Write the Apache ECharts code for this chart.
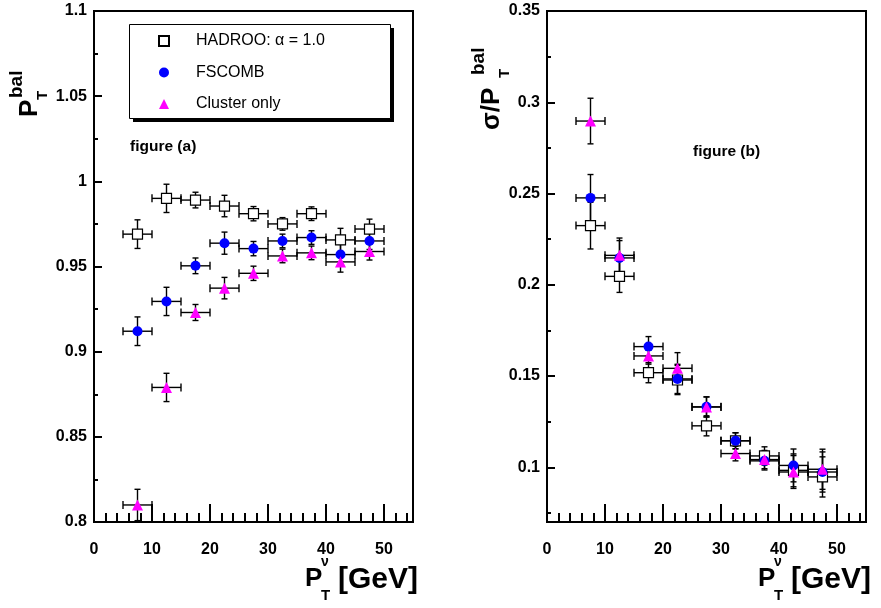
<!DOCTYPE html>
<html>
<head>
<meta charset="utf-8">
<script src="https://cdn.jsdelivr.net/npm/echarts@6/dist/echarts.min.js"></script>
<style>html,body{margin:0;padding:0;background:#fff}#c{width:881px;height:608px}</style>
</head>
<body>
<div id="c"></div>
<script>
// ---- data ----
const ptBins = [7.5, 12.5, 17.5, 22.5, 27.5, 32.5, 37.5, 42.5, 47.5];
const ptHalfWidth = [2.5, 2.5, 2.5, 2.5, 2.5, 2.5, 2.5, 2.5, 2.5];

// figure (a): P_T^bal
const hadrooA    = [0.969, 0.990, 0.989, 0.9855, 0.981, 0.975, 0.981, 0.9656, 0.972];
const hadrooAErr = [0.0084, 0.0083, 0.0046, 0.0063, 0.0042, 0.0037, 0.0040, 0.0068, 0.0058];
const fscombA    = [0.912, 0.9295, 0.9504, 0.9637, 0.9605, 0.965, 0.967, 0.957, 0.965];
const fscombAErr = [0.0084, 0.0083, 0.0046, 0.0065, 0.0042, 0.0040, 0.0040, 0.0060, 0.0050];
const clusterA    = [0.810, 0.879, 0.923, 0.9373, 0.946, 0.9562, 0.958, 0.9527, 0.9588];
const clusterAErr = [0.0092, 0.0083, 0.0047, 0.0063, 0.0042, 0.0040, 0.0040, 0.0060, 0.0050];

// figure (b): sigma / P_T^bal
const hadrooB    = [0.2324, 0.2046, 0.1518, 0.1478, 0.1227, 0.1145, 0.1062, 0.0983, 0.0947];
const hadrooBErr = [0.0128, 0.0088, 0.0055, 0.0080, 0.0055, 0.0044, 0.0050, 0.0090, 0.0110];
const fscombB    = [0.2476, 0.2147, 0.1661, 0.1484, 0.1331, 0.1145, 0.1035, 0.1010, 0.0974];
const fscombBErr = [0.0128, 0.0095, 0.0055, 0.0080, 0.0055, 0.0044, 0.0050, 0.0090, 0.0110];
const clusterB    = [0.2897, 0.2161, 0.1610, 0.1542, 0.1330, 0.1075, 0.1042, 0.0974, 0.0989];
const clusterBErr = [0.0125, 0.0095, 0.0045, 0.0086, 0.0055, 0.0040, 0.0050, 0.0090, 0.0110];

const seriesNames = ['HADROO: \u03b1 = 1.0', 'FSCOMB', 'Cluster only'];
const xTicksA = [0, 10, 20, 30, 40, 50];

// ---- chart ----
const FONT = '"Liberation Sans", Arial, Helvetica, sans-serif';
const chart = echarts.init(document.getElementById('c'), null, {renderer: 'canvas'});

function errRender(params, api) {
  const x = api.value(0), y = api.value(1), xe = api.value(2), ye = api.value(3);
  const l = api.coord([x - xe, y]), r = api.coord([x + xe, y]);
  const t = api.coord([x, y + ye]), b = api.coord([x, y - ye]);
  const st = {stroke: '#000', lineWidth: 1.4};
  const cx = 4, cy = 3;
  const L = (x1, y1, x2, y2) => ({type: 'line', shape: {x1, y1, x2, y2}, style: st});
  return {type: 'group', children: [
    L(l[0], l[1], r[0], r[1]),
    L(t[0], t[1], b[0], b[1]),
    L(l[0], l[1] - cx, l[0], l[1] + cx),
    L(r[0], r[1] - cx, r[0], r[1] + cx),
    L(t[0] - cy, t[1], t[0] + cy, t[1]),
    L(b[0] - cy, b[1], b[0] + cy, b[1])
  ]};
}
function errData(vals, errs) { return ptBins.map((v, i) => [v, vals[i], ptHalfWidth[i], errs[i]]); }
function ptData(vals) { return ptBins.map((v, i) => [v, vals[i]]); }

const markerStyles = [
  {symbol: 'rect', symbolSize: 10, itemStyle: {color: '#fff', borderColor: '#000', borderWidth: 1.2, opacity: 1}},
  {symbol: 'circle', symbolSize: 10, itemStyle: {color: '#0000ff', opacity: 1}},
  {symbol: 'triangle', symbolSize: 11, itemStyle: {color: '#ff00ff', opacity: 1}}
];

const series = [];
[[hadrooA, hadrooAErr, fscombA, fscombAErr, clusterA, clusterAErr, 0],
 [hadrooB, hadrooBErr, fscombB, fscombBErr, clusterB, clusterBErr, 1]].forEach(set => {
  const gi = set[6];
  for (let k = 0; k < 3; k++) {
    series.push({type: 'custom', xAxisIndex: gi, yAxisIndex: gi, renderItem: errRender,
      data: errData(set[2 * k], set[2 * k + 1]), silent: true, clip: false});
    series.push(Object.assign({type: 'scatter', name: seriesNames[k], xAxisIndex: gi, yAxisIndex: gi,
      data: ptData(set[2 * k]), silent: true}, markerStyles[k]));
  }
});

function xAxis(gi) {
  return {type: 'value', gridIndex: gi, min: 0, max: 55, interval: 10,
    axisLine: {show: true, onZero: false, lineStyle: {color: '#000', width: 2}},
    axisTick: {show: true, inside: true, length: 18, lineStyle: {color: '#000', width: 2}},
    minorTick: {show: true, splitNumber: 5, length: 9, lineStyle: {color: '#000', width: 2}},
    splitLine: {show: false},
    axisLabel: {margin: 20, color: '#000', fontSize: 16, fontWeight: 'bold', fontFamily: FONT,
      formatter: v => (xTicksA.indexOf(v) >= 0 ? String(v) : '')}
  };
}
function yAxis(gi, min, max, interval) {
  const a = {type: 'value', gridIndex: gi, min: min, max: max,
    axisLine: {show: true, onZero: false, lineStyle: {color: '#000', width: 2}},
    axisTick: {show: true, inside: true, length: 8, lineStyle: {color: '#000', width: 2}},
    minorTick: {show: true, splitNumber: 2, length: 4, lineStyle: {color: '#000', width: 2}},
    splitLine: {show: false},
    axisLabel: {margin: 7, color: '#000', fontSize: 16, fontWeight: 'bold', fontFamily: FONT,
      formatter: v => (v < 0.0999 && gi === 1) ? '' : String(+v.toFixed(3))}
  };
  if (interval) a.interval = interval;
  return a;
}

function txt(text, x, y, size, extra, weight) {
  return Object.assign({type: 'text', x: x, y: y, style: {text: text, fill: '#000',
    font: (weight || 'bold') + ' ' + size + 'px ' + FONT, align: 'left', verticalAlign: 'middle'}}, extra || {});
}
function yTitle(x, y, main, tOff, balOff) {
  return {type: 'group', x: x, y: y, rotation: Math.PI / 2, children: [
    txt(main, 0, 0, 26),
    txt('T', tOff, 13, 15),
    txt('bal', balOff, -13, 19)
  ]};
}
function xTitle(x, y) {
  return {type: 'group', x: x, y: y, children: [
    txt('P', 0, 0, 26),
    txt('\u03bd', 16, -17, 14),
    txt('T', 16, 17, 15),
    txt('[GeV]', 33, 1, 30)
  ]};
}

chart.setOption({
  animation: false,
  backgroundColor: '#fff',
  grid: [
    {left: 94, top: 11, width: 319, height: 511, show: true, borderColor: '#000', borderWidth: 2, backgroundColor: 'transparent'},
    {left: 547, top: 11, width: 319, height: 511, show: true, borderColor: '#000', borderWidth: 2, backgroundColor: 'transparent'}
  ],
  xAxis: [xAxis(0), xAxis(1)],
  yAxis: [yAxis(0, 0.8, 1.1, 0.05), yAxis(1, 0.07, 0.35, null)],
  legend: {
    data: seriesNames, orient: 'vertical', left: 129, top: 24, z: 10,
    padding: [9, 20, 8, 29], itemWidth: 10, itemHeight: 10, itemGap: 15.5,
    selectedMode: false,
    textStyle: {color: '#000', fontSize: 16, fontFamily: FONT, padding: [0, 0, 0, 22]},
    backgroundColor: 'transparent', borderWidth: 0
  },
  graphic: [
    {type: 'rect', z: 1, shape: {x: 133, y: 28, width: 261, height: 94}, style: {fill: '#000'}},
    {type: 'rect', z: 1, shape: {x: 129.5, y: 24.5, width: 261, height: 94}, style: {fill: '#fff', stroke: '#000', lineWidth: 1}},
    yTitle(30, 117, 'P', 17, 19),
    yTitle(492, 130, '\u03c3/P', 52, 55),
    xTitle(305, 579),
    xTitle(758, 579),
    txt('figure (a)', 130, 147, 15.5),
    txt('figure (b)', 693, 152, 15.5)
  ],
  series: series
});
</script>
</body>
</html>
